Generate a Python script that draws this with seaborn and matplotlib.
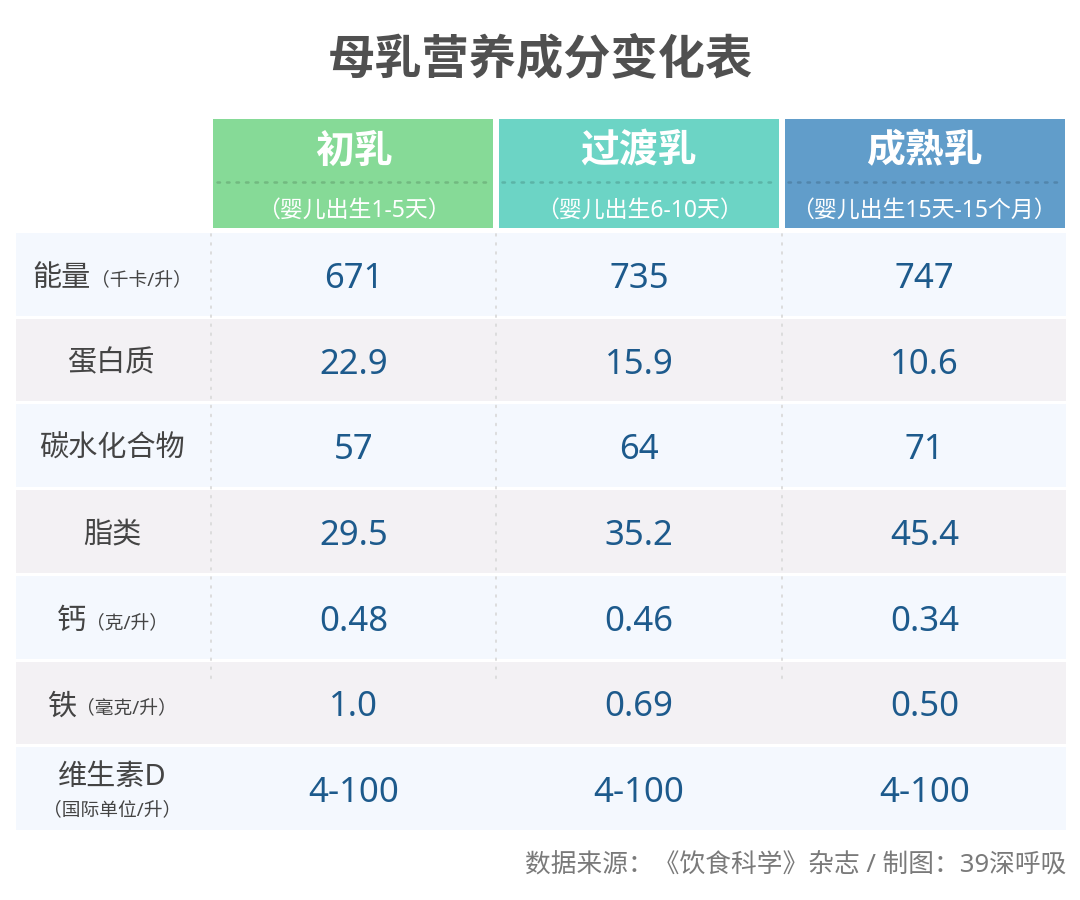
import numpy as np
import matplotlib
matplotlib.use("Agg")
import matplotlib.pyplot as plt
from matplotlib.colors import ListedColormap
import seaborn as sns

title = "母乳营养成分变化表"
stages = ["初乳", "过渡乳", "成熟乳"]
stage_notes = ["（婴儿出生1-5天）", "（婴儿出生6-10天）", "（婴儿出生15天-15个月）"]
nutrients = ["能量", "蛋白质", "碳水化合物", "脂类", "钙", "铁", "维生素D"]
units = ["（千卡/升）", "", "", "", "（克/升）", "（毫克/升）", "（国际单位/升）"]
colostrum = ["671", "22.9", "57", "29.5", "0.48", "1.0", "4-100"]
transitional = ["735", "15.9", "64", "35.2", "0.46", "0.69", "4-100"]
mature = ["747", "10.6", "71", "45.4", "0.34", "0.50", "4-100"]
source = "数据来源：《饮食科学》杂志 / 制图：39深呼吸"

header_colors = ["#86da97", "#6cd4c5", "#619dca"]
row_colors = ["#f4f8fe", "#f3f1f4"]

sns.set_theme(style="white")
plt.rcParams["font.family"] = ["Noto Sans", "Noto Sans CJK SC", "DejaVu Sans"]
cjk = ["Noto Sans CJK SC", "DejaVu Sans"]

W, H = 1080, 900
fig = plt.figure(figsize=(W / 100, H / 100), dpi=100)
fig.patch.set_facecolor("white")

# layout (pixels)
left, lab_right, right = 14, 211, 1067
head_top, head_bot = 116, 231
body_top, body_bot = 231, 831
n_rows = len(nutrients)
row_h = (body_bot - body_top) / n_rows
col_w = (right - lab_right) / len(stages)


def frac_box(x0, y0, x1, y1):
    return [x0 / W, 1 - y1 / H, (x1 - x0) / W, (y1 - y0) / H]


# body row bands
hax = fig.add_axes(frac_box(left, body_top, right, body_bot))
band = np.array([[i % 2] for i in range(n_rows)])
sns.heatmap(band, cmap=ListedColormap(row_colors), cbar=False, linewidths=2,
            linecolor="white", xticklabels=False, yticklabels=False, ax=hax)

# header cells
cax = fig.add_axes(frac_box(lab_right - 1, head_top, right + 1, head_bot))
sns.heatmap(np.array([[0, 1, 2]]), cmap=ListedColormap(header_colors), cbar=False,
            linewidths=3, linecolor="white", xticklabels=False, yticklabels=False, ax=cax)

# overlay for text and dotted lines
ax = fig.add_axes([0, 0, 1, 1])
ax.set_xlim(0, W)
ax.set_ylim(H, 0)
ax.axis("off")
ax.patch.set_alpha(0)

ax.text(W / 2, 60, title, ha="center", va="center", fontsize=34,
        fontweight="bold", color="#505050", family=cjk)

for j, (name, note) in enumerate(zip(stages, stage_notes)):
    cx = lab_right + col_w * (j + 0.5)
    ax.text(cx, 151, name, ha="center", va="center", fontsize=28,
            fontweight="bold", color="white", family=cjk)
    ax.plot([lab_right + col_w * j + 6, lab_right + col_w * (j + 1) - 6], [182, 182],
            color="black", alpha=0.15, lw=1.8, linestyle=(0, (1, 2.8)),
            dash_capstyle="round")
    ax.text(cx, 211, note, ha="center", va="center", fontsize=16.5, color="white")

# vertical dotted separators
for j in range(len(stages)):
    x = lab_right + col_w * j
    ax.plot([x, x], [body_top + 3, 683], color="#dadada", lw=1.3,
            linestyle=(0, (1, 4)), dash_capstyle="round")

values = [colostrum, transitional, mature]
label_cx = 112
fig.canvas.draw()
renderer = fig.canvas.get_renderer()

for i in range(n_rows):
    cy = body_top + row_h * (i + 0.5)
    for j in range(len(stages)):
        cx = lab_right + col_w * (j + 0.5)
        ax.text(cx, cy + 5, values[j][i], ha="center", va="center",
                fontsize=25, color="#1d5a8c")
    name, unit = nutrients[i], units[i]
    if not unit:
        ax.text(label_cx, cy + 4, name, ha="center", va="center", fontsize=21,
                color="#444444")
    elif i == n_rows - 1:
        ax.text(label_cx, cy - 11, name, ha="center", va="center", fontsize=21,
                color="#444444")
        ax.text(label_cx, cy + 22, unit, ha="center", va="center", fontsize=13.5,
                color="#444444")
    else:
        t1 = ax.text(0, cy + 5, name, ha="left", va="center", fontsize=21, color="#444444")
        t2 = ax.text(0, cy + 6, unit, ha="left", va="center", fontsize=13.5, color="#444444")
        w1 = t1.get_window_extent(renderer).width
        w2 = t2.get_window_extent(renderer).width
        x0 = label_cx - (w1 + w2) / 2
        t1.set_x(x0)
        t2.set_x(x0 + w1)

ax.text(right - 1, 866, source, ha="right", va="center", fontsize=18.5, color="#7a7a7a")

fig.savefig("out.png", dpi=100, facecolor="white")
